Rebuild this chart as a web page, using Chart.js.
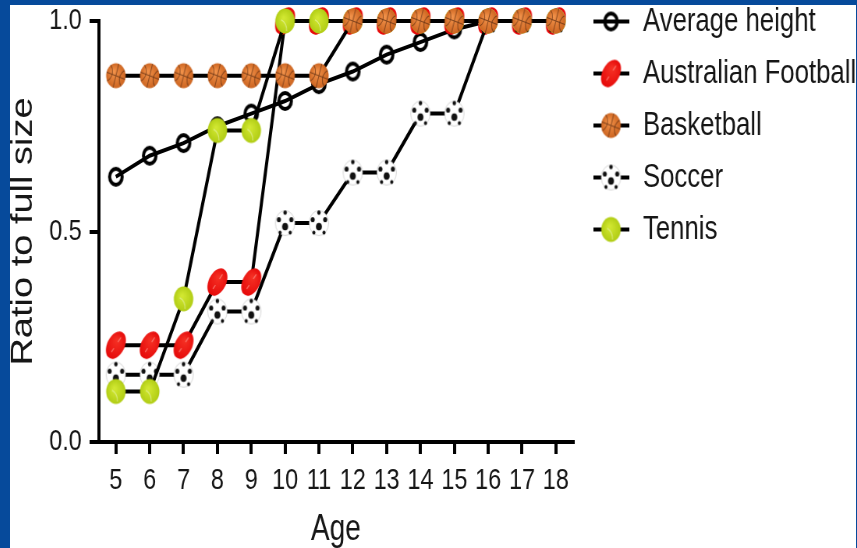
<!DOCTYPE html>
<html>
<head>
<meta charset="utf-8">
<style>
  html, body { margin: 0; padding: 0; background: #064a9b; overflow: hidden; }
  #wrap { position: absolute; left: 10px; top: 5px; width: 846px; height: 543px; overflow: hidden; background: #fff; }
  /* the original picture is squeezed sideways, so the whole chart is too */
  #chart { position: absolute; left: 0; top: 0; transform-origin: 0 0; transform: scaleX(0.78); filter: blur(0.4px); }
</style>
<script src="https://cdn.jsdelivr.net/npm/chart.js@4"></script>
</head>
<body>
<div id="wrap"><canvas id="chart" width="1110" height="543"></canvas></div>
<script>
const ages = ['5', '6', '7', '8', '9', '10', '11', '12', '13', '14', '15', '16', '17', '18'];
const averageHeight = [0.63, 0.68, 0.71, 0.75, 0.78, 0.81, 0.85, 0.88, 0.92, 0.95, 0.98, 1, 1, 1];
const australianFootball = [0.23, 0.23, 0.23, 0.38, 0.38, 1, 1, 1, 1, 1, 1, 1, 1, 1];
const basketball = [0.87, 0.87, 0.87, 0.87, 0.87, 0.87, 0.87, 1, 1, 1, 1, 1, 1, 1];
const soccer = [0.16, 0.16, 0.16, 0.31, 0.31, 0.52, 0.52, 0.64, 0.64, 0.78, 0.78, 1, 1, 1];
const tennis = [0.12, 0.12, 0.34, 0.74, 0.74, 1, 1, 1, 1, 1, 1, 1, 1, 1];

const sans = '"Liberation Sans", Arial, sans-serif';
const ink = '#161616';

function newIcon(w, h) {
  const c = document.createElement('canvas');
  c.width = w;
  c.height = h;
  return c;
}

function drawFootball(g, x, y) {
  g.save();
  g.translate(x, y);
  g.rotate(0.7);
  const grad = g.createRadialGradient(-2, -5, 1, 0, 0, 15);
  grad.addColorStop(0, '#f53024');
  grad.addColorStop(1, '#e60a0a');
  g.fillStyle = grad;
  g.beginPath();
  g.ellipse(0, 0, 10.5, 15.5, 0, 0, Math.PI * 2);
  g.fill();
  g.strokeStyle = 'rgba(255,160,150,0.7)';
  g.lineWidth = 1.2;
  g.beginPath();
  g.moveTo(0, -10);
  g.lineTo(0, -4);
  g.moveTo(0, 4);
  g.lineTo(0, 9);
  g.stroke();
  g.restore();
}

function drawBasketball(g, x, y) {
  g.save();
  g.translate(x, y);
  const grad = g.createRadialGradient(-3, -4, 1, 0, 0, 13);
  grad.addColorStop(0, '#f2924a');
  grad.addColorStop(1, '#cc6420');
  g.fillStyle = grad;
  g.beginPath();
  g.arc(0, 0, 12.5, 0, Math.PI * 2);
  g.fill();
  g.clip();
  g.rotate(0.3);
  g.strokeStyle = 'rgba(100,50,20,0.75)';
  g.lineWidth = 1;
  g.beginPath();
  g.moveTo(-13, 0);
  g.lineTo(13, 0);
  g.moveTo(0, -13);
  g.lineTo(0, 13);
  g.stroke();
  g.beginPath();
  g.arc(-15, 0, 10, -1, 1);
  g.stroke();
  g.beginPath();
  g.arc(15, 0, 10, Math.PI - 1, Math.PI + 1);
  g.stroke();
  g.restore();
}

function drawSoccer(g, x, y) {
  g.save();
  g.translate(x, y);
  g.fillStyle = '#fff';
  g.beginPath();
  g.arc(0, 0, 12.5, 0, Math.PI * 2);
  g.fill();
  g.strokeStyle = 'rgba(150,150,150,0.5)';
  g.lineWidth = 0.8;
  g.stroke();
  g.fillStyle = '#111';
  const spots = [[0, 3.5, 3.8], [-8, -3.5, 2.6], [8, -3.5, 2.6], [0, -10.5, 2.2], [-6.5, 9.5, 2], [6.5, 9.5, 2]];
  spots.forEach(s => {
    g.beginPath();
    g.arc(s[0], s[1], s[2], 0, Math.PI * 2);
    g.fill();
  });
  g.restore();
}

function drawTennis(g, x, y) {
  g.save();
  g.translate(x, y);
  const grad = g.createRadialGradient(-2, -3, 1, 0, 0, 13);
  grad.addColorStop(0, '#d2e832');
  grad.addColorStop(1, '#b0cc14');
  g.fillStyle = grad;
  g.beginPath();
  g.arc(0, 0, 12.5, 0, Math.PI * 2);
  g.fill();
  g.strokeStyle = 'rgba(235,245,190,0.7)';
  g.lineWidth = 1.1;
  g.beginPath();
  g.arc(-9, 9, 11, -1.2, 0.1);
  g.stroke();
  g.restore();
}

function drawRing(g, x, y) {
  g.strokeStyle = '#000';
  g.lineWidth = 4;
  g.beginPath();
  g.arc(x, y, 8, 0, Math.PI * 2);
  g.stroke();
}

function pointIcon(draw) {
  const c = newIcon(34, 34);
  draw(c.getContext('2d'), 17, 17);
  return c;
}

// legend icon is a short piece of line with the marker on it
function legendIcon(draw) {
  const c = newIcon(46, 34);
  const g = c.getContext('2d');
  g.strokeStyle = '#000';
  g.lineWidth = 4;
  g.beginPath();
  g.moveTo(0, 17);
  g.lineTo(46, 17);
  g.stroke();
  draw(g, 23, 17);
  return c;
}

const names = ['Average height', 'Australian Football', 'Basketball', 'Soccer', 'Tennis'];
const values = [averageHeight, australianFootball, basketball, soccer, tennis];
const painters = [drawRing, drawFootball, drawBasketball, drawSoccer, drawTennis];
const stacking = [4, 3, 0, 2, 1]; // basketball ends up on top, then tennis

const datasets = names.map((name, i) => ({
  label: name,
  data: values[i],
  borderColor: '#000',
  borderWidth: 4,
  backgroundColor: 'transparent',
  pointStyle: pointIcon(painters[i]),
  pointRadius: 12,
  tension: 0,
  clip: false,
  order: stacking[i]
}));

// legend goes beside the plot and must not be clipped to its fitted box
const legendSpot = {
  id: 'legendSpot',
  afterLayout(chart) {
    chart.legend.left = 727;
    chart.legend.top = -19;
    chart.legend.right = 1110;
    chart.legend.bottom = 543;
  }
};

new Chart(document.getElementById('chart'), {
  type: 'line',
  data: { labels: ages, datasets: datasets },
  plugins: [legendSpot],
  options: {
    responsive: false,
    animation: false,
    devicePixelRatio: 1,
    layout: { autoPadding: false, padding: { left: 0, top: 16, right: 148, bottom: 0 } },
    plugins: {
      tooltip: { enabled: false },
      legend: {
        position: 'right',
        align: 'start',
        labels: {
          usePointStyle: true,
          pointStyleWidth: 49,
          padding: 19,
          color: ink,
          font: { family: sans, size: 33 },
          generateLabels: () => names.map((name, i) => ({
            text: name,
            datasetIndex: i,
            pointStyle: legendIcon(painters[i]),
            fontColor: ink,
            lineWidth: 0,
            strokeStyle: 'transparent',
            fillStyle: 'transparent'
          }))
        }
      }
    },
    scales: {
      x: {
        offset: true,
        afterFit: s => { s.height = 106; s.paddingLeft = 0; s.paddingRight = 0; },
        grid: { drawOnChartArea: false, color: '#000', lineWidth: 4, tickLength: 12 },
        border: { color: '#000', width: 4 },
        ticks: { color: ink, font: { family: sans, size: 30 }, maxRotation: 0, autoSkip: false, padding: 9 },
        title: { display: true, text: 'Age', color: ink, font: { family: sans, size: 36, lineHeight: 1 }, padding: { top: 0, bottom: 0 } }
      },
      y: {
        min: 0,
        max: 1,
        afterFit: s => { s.width = 114; s.paddingTop = 0; s.paddingBottom = 0; },
        grid: { drawOnChartArea: false, color: '#000', lineWidth: 4, tickLength: 12 },
        border: { color: '#000', width: 4 },
        ticks: { stepSize: 0.5, color: ink, font: { family: sans, size: 30 }, padding: 10, callback: v => v.toFixed(1) },
        title: { display: true, text: 'Ratio to full size', color: ink, font: { family: sans, size: 38, lineHeight: 0.9 }, padding: { top: 0, bottom: 0 } }
      }
    }
  }
});
</script>
</body>
</html>
